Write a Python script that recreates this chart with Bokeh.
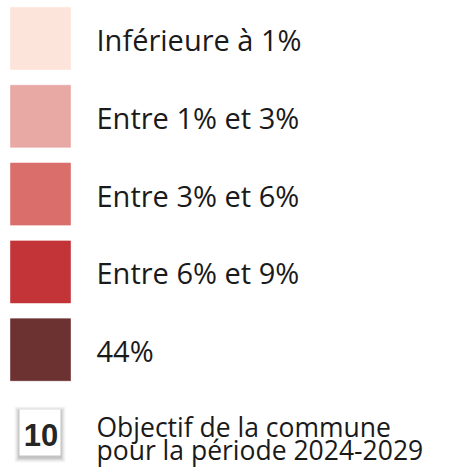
from bokeh.plotting import figure
from bokeh.models import ColumnDataSource, Range1d
from bokeh.core.properties import value
from bokeh.embed import file_html
from bokeh.resources import INLINE

# Legend data
labels = ["Inférieure à 1%", "Entre 1% et 3%", "Entre 3% et 6%", "Entre 6% et 9%", "44%"]
colors = ["#fde4da", "#e8a9a5", "#d96e6b", "#c23437", "#6c3131"]
objective_badge = ["10"]
objective_lines = ["Objectif de la commune", "pour la période 2024-2029"]

# Layout (picture pixel coordinates)
W, H = 460, 475
ROW0, PITCH, SW_H = 38.0, 77.8, 62.0
SW_L, SW_R = 10, 70
TXT_X = 96
DY = -9  # baseline correction

p = figure(width=W, height=H, output_backend="svg", toolbar_location=None,
           x_range=Range1d(0, W), y_range=Range1d(H, 0),
           min_border=0)
p.axis.visible = False
p.grid.visible = False
p.outline_line_color = None
p.background_fill_color = "white"
p.border_fill_color = "white"

centers = [ROW0 + PITCH * i for i in range(len(labels))]
src = ColumnDataSource(dict(
    left=[SW_L] * len(labels), right=[SW_R] * len(labels),
    top=[c - SW_H / 2 for c in centers], bottom=[c + SW_H / 2 for c in centers],
    color=colors, label=labels,
    tx=[TXT_X] * len(labels), ty=[c + 10 + DY for c in centers],
))
p.quad(left="left", right="right", top="top", bottom="bottom", source=src,
       fill_color="color", line_color="color", line_alpha=0.6)
p.text(x="tx", y="ty", text="label", source=src, text_font=value("Open Sans"),
       text_font_size="29px", text_color="#1a1a1a", text_baseline="alphabetic",
       text_align="left")

# Objective badge with soft shadow
bx_l, bx_r, bx_t, bx_b = 19, 60, 409, 455
for k, a in enumerate([0.03, 0.04, 0.05, 0.06, 0.07]):
    g = 5 - k
    p.quad(left=[bx_l - g], right=[bx_r + g], top=[bx_t - g + 2], bottom=[bx_b + g + 2],
           fill_color="#000000", fill_alpha=a, line_color=None)
p.quad(left=[bx_l], right=[bx_r], top=[bx_t], bottom=[bx_b],
       fill_color="white", line_color=None)
p.text(x=[(bx_l + bx_r) / 2 + 1], y=[443.5 + DY], text=objective_badge,
       text_font=value("Liberation Sans"), text_font_style="bold",
       text_font_size="31px", text_color="#262626", text_align="center",
       text_baseline="alphabetic")

p.text(x=[TXT_X] * 2, y=[435 + DY, 458 + DY], text=objective_lines, text_font=value("Open Sans"),
       text_font_size="26.5px", text_color="#1a1a1a", text_baseline="alphabetic",
       text_align="left")

open("out.html", "w").write(file_html(p, INLINE))
